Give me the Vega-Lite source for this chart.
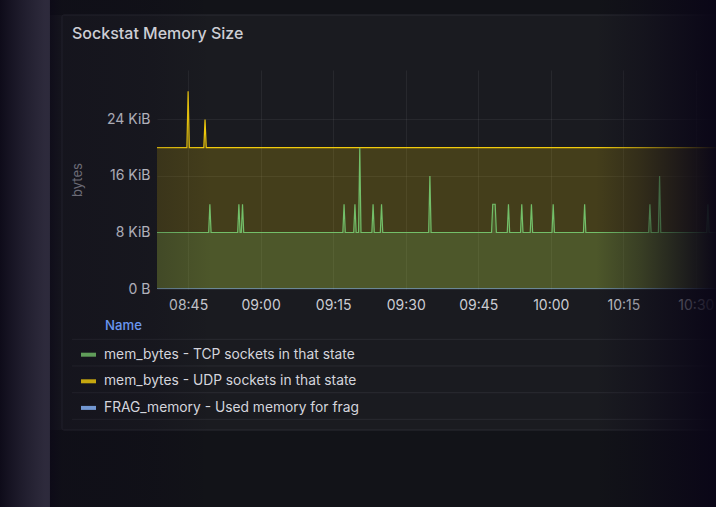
{
  "$schema": "https://vega.github.io/schema/vega-lite/v6.json",
  "width": 559,
  "height": 219,
  "autosize": {"type": "none"},
  "padding": {"left": 157, "top": 70, "right": 0, "bottom": 218},
  "background": "#1a1b20",
  "title": {"text": "Sockstat Memory Size", "anchor": "start", "frame": "group", "dx": -85, "offset": -42, "color": "#cdced5", "font": "Inter", "fontSize": 16, "fontWeight": 500},
  "data": {"values": [
    {"time": "2024-05-20T08:38:30Z", "series": "mem_bytes - UDP sockets in that state", "value": 20480},
    {"time": "2024-05-20T08:44:45Z", "series": "mem_bytes - UDP sockets in that state", "value": 20480},
    {"time": "2024-05-20T08:45:00Z", "series": "mem_bytes - UDP sockets in that state", "value": 28672},
    {"time": "2024-05-20T08:45:15Z", "series": "mem_bytes - UDP sockets in that state", "value": 20480},
    {"time": "2024-05-20T08:48:15Z", "series": "mem_bytes - UDP sockets in that state", "value": 20480},
    {"time": "2024-05-20T08:48:30Z", "series": "mem_bytes - UDP sockets in that state", "value": 24576},
    {"time": "2024-05-20T08:48:45Z", "series": "mem_bytes - UDP sockets in that state", "value": 20480},
    {"time": "2024-05-20T10:34:30Z", "series": "mem_bytes - UDP sockets in that state", "value": 20480},
    {"time": "2024-05-20T08:38:30Z", "series": "mem_bytes - TCP sockets in that state", "value": 8192},
    {"time": "2024-05-20T08:49:15Z", "series": "mem_bytes - TCP sockets in that state", "value": 8192},
    {"time": "2024-05-20T08:49:30Z", "series": "mem_bytes - TCP sockets in that state", "value": 12288},
    {"time": "2024-05-20T08:49:45Z", "series": "mem_bytes - TCP sockets in that state", "value": 8192},
    {"time": "2024-05-20T08:55:15Z", "series": "mem_bytes - TCP sockets in that state", "value": 8192},
    {"time": "2024-05-20T08:55:30Z", "series": "mem_bytes - TCP sockets in that state", "value": 12288},
    {"time": "2024-05-20T08:55:45Z", "series": "mem_bytes - TCP sockets in that state", "value": 8192},
    {"time": "2024-05-20T08:56:00Z", "series": "mem_bytes - TCP sockets in that state", "value": 8192},
    {"time": "2024-05-20T08:56:15Z", "series": "mem_bytes - TCP sockets in that state", "value": 12288},
    {"time": "2024-05-20T08:56:30Z", "series": "mem_bytes - TCP sockets in that state", "value": 8192},
    {"time": "2024-05-20T09:17:00Z", "series": "mem_bytes - TCP sockets in that state", "value": 8192},
    {"time": "2024-05-20T09:17:15Z", "series": "mem_bytes - TCP sockets in that state", "value": 12288},
    {"time": "2024-05-20T09:17:30Z", "series": "mem_bytes - TCP sockets in that state", "value": 8192},
    {"time": "2024-05-20T09:19:15Z", "series": "mem_bytes - TCP sockets in that state", "value": 8192},
    {"time": "2024-05-20T09:19:30Z", "series": "mem_bytes - TCP sockets in that state", "value": 12288},
    {"time": "2024-05-20T09:19:45Z", "series": "mem_bytes - TCP sockets in that state", "value": 8192},
    {"time": "2024-05-20T09:20:15Z", "series": "mem_bytes - TCP sockets in that state", "value": 8192},
    {"time": "2024-05-20T09:20:30Z", "series": "mem_bytes - TCP sockets in that state", "value": 20480},
    {"time": "2024-05-20T09:20:45Z", "series": "mem_bytes - TCP sockets in that state", "value": 8192},
    {"time": "2024-05-20T09:23:00Z", "series": "mem_bytes - TCP sockets in that state", "value": 8192},
    {"time": "2024-05-20T09:23:15Z", "series": "mem_bytes - TCP sockets in that state", "value": 12288},
    {"time": "2024-05-20T09:23:30Z", "series": "mem_bytes - TCP sockets in that state", "value": 8192},
    {"time": "2024-05-20T09:24:45Z", "series": "mem_bytes - TCP sockets in that state", "value": 8192},
    {"time": "2024-05-20T09:25:00Z", "series": "mem_bytes - TCP sockets in that state", "value": 12288},
    {"time": "2024-05-20T09:25:15Z", "series": "mem_bytes - TCP sockets in that state", "value": 8192},
    {"time": "2024-05-20T09:34:45Z", "series": "mem_bytes - TCP sockets in that state", "value": 8192},
    {"time": "2024-05-20T09:35:00Z", "series": "mem_bytes - TCP sockets in that state", "value": 16384},
    {"time": "2024-05-20T09:35:15Z", "series": "mem_bytes - TCP sockets in that state", "value": 8192},
    {"time": "2024-05-20T09:47:45Z", "series": "mem_bytes - TCP sockets in that state", "value": 8192},
    {"time": "2024-05-20T09:48:00Z", "series": "mem_bytes - TCP sockets in that state", "value": 12288},
    {"time": "2024-05-20T09:48:15Z", "series": "mem_bytes - TCP sockets in that state", "value": 12288},
    {"time": "2024-05-20T09:48:30Z", "series": "mem_bytes - TCP sockets in that state", "value": 12288},
    {"time": "2024-05-20T09:48:45Z", "series": "mem_bytes - TCP sockets in that state", "value": 8192},
    {"time": "2024-05-20T09:51:00Z", "series": "mem_bytes - TCP sockets in that state", "value": 8192},
    {"time": "2024-05-20T09:51:15Z", "series": "mem_bytes - TCP sockets in that state", "value": 12288},
    {"time": "2024-05-20T09:51:30Z", "series": "mem_bytes - TCP sockets in that state", "value": 8192},
    {"time": "2024-05-20T09:53:45Z", "series": "mem_bytes - TCP sockets in that state", "value": 8192},
    {"time": "2024-05-20T09:54:00Z", "series": "mem_bytes - TCP sockets in that state", "value": 12288},
    {"time": "2024-05-20T09:54:15Z", "series": "mem_bytes - TCP sockets in that state", "value": 8192},
    {"time": "2024-05-20T09:55:45Z", "series": "mem_bytes - TCP sockets in that state", "value": 8192},
    {"time": "2024-05-20T09:56:00Z", "series": "mem_bytes - TCP sockets in that state", "value": 12288},
    {"time": "2024-05-20T09:56:15Z", "series": "mem_bytes - TCP sockets in that state", "value": 8192},
    {"time": "2024-05-20T10:00:15Z", "series": "mem_bytes - TCP sockets in that state", "value": 8192},
    {"time": "2024-05-20T10:00:30Z", "series": "mem_bytes - TCP sockets in that state", "value": 12288},
    {"time": "2024-05-20T10:00:45Z", "series": "mem_bytes - TCP sockets in that state", "value": 8192},
    {"time": "2024-05-20T10:06:45Z", "series": "mem_bytes - TCP sockets in that state", "value": 8192},
    {"time": "2024-05-20T10:07:00Z", "series": "mem_bytes - TCP sockets in that state", "value": 12288},
    {"time": "2024-05-20T10:07:15Z", "series": "mem_bytes - TCP sockets in that state", "value": 8192},
    {"time": "2024-05-20T10:20:15Z", "series": "mem_bytes - TCP sockets in that state", "value": 8192},
    {"time": "2024-05-20T10:20:30Z", "series": "mem_bytes - TCP sockets in that state", "value": 12288},
    {"time": "2024-05-20T10:20:45Z", "series": "mem_bytes - TCP sockets in that state", "value": 8192},
    {"time": "2024-05-20T10:22:15Z", "series": "mem_bytes - TCP sockets in that state", "value": 8192},
    {"time": "2024-05-20T10:22:30Z", "series": "mem_bytes - TCP sockets in that state", "value": 16384},
    {"time": "2024-05-20T10:22:45Z", "series": "mem_bytes - TCP sockets in that state", "value": 8192},
    {"time": "2024-05-20T10:32:15Z", "series": "mem_bytes - TCP sockets in that state", "value": 8192},
    {"time": "2024-05-20T10:32:30Z", "series": "mem_bytes - TCP sockets in that state", "value": 12288},
    {"time": "2024-05-20T10:32:45Z", "series": "mem_bytes - TCP sockets in that state", "value": 8192},
    {"time": "2024-05-20T10:34:30Z", "series": "mem_bytes - TCP sockets in that state", "value": 8192},
    {"time": "2024-05-20T08:38:30Z", "series": "FRAG_memory - Used memory for frag", "value": 0},
    {"time": "2024-05-20T10:34:30Z", "series": "FRAG_memory - Used memory for frag", "value": 0}
  ]},
  "layer": [
    {
      "mark": {"type": "area", "clip": true, "fillOpacity": 0.2, "strokeWidth": 0},
      "encoding": {
        "x": {"field": "time", "type": "temporal", "title": null,
          "scale": {"type": "utc", "domain": [1716194314000, 1716201250000]},
          "axis": {"format": "%H:%M", "values": [1716194700000, 1716195600000, 1716196500000, 1716197400000, 1716198300000, 1716199200000, 1716200100000, 1716201000000], "labelFlush": false, "labelOverlap": false, "labelPadding": 9.5, "labelFontSize": 14, "labelColor": "#cbccd3"}},
        "y": {"field": "value", "type": "quantitative", "stack": null,
          "scale": {"domain": [0, 31744], "nice": false},
          "axis": {"values": [0, 8192, 16384, 24576], "labelExpr": "datum.value == 0 ? '0 B' : (datum.value / 1024) + ' KiB'", "title": "bytes", "titleColor": "#92939c", "titleFontWeight": "normal", "titleFontSize": 13, "titlePadding": 22, "labelPadding": 7, "labelFontSize": 14, "labelColor": "#dcdde3"}},
        "color": {"field": "series", "type": "nominal",
          "scale": {"domain": ["mem_bytes - TCP sockets in that state", "mem_bytes - UDP sockets in that state", "FRAG_memory - Used memory for frag"], "range": ["#73BF69", "#F2CC0C", "#8AB8FF"]},
          "legend": {"title": "Name", "orient": "none", "legendX": -52, "legendY": 250, "padding": 0,
            "titleColor": "#6a96f0", "titleFont": "Inter", "titleFontSize": 13.2, "titleFontWeight": 500, "titlePadding": 12,
            "labelColor": "#d4d5dc", "labelFont": "Inter", "labelFontSize": 13.8, "labelLimit": 500, "labelOffset": 6,
            "symbolType": "stroke", "symbolStrokeWidth": 4, "symbolSize": 225, "symbolOffset": -26, "symbolOpacity": 0.8, "rowPadding": 8.6}}
      }
    },
    {
      "mark": {"type": "line", "clip": true, "strokeWidth": 1.2},
      "encoding": {
        "x": {"field": "time", "type": "temporal", "title": null},
        "y": {"field": "value", "type": "quantitative", "stack": null},
        "color": {"field": "series", "type": "nominal"}
      }
    },
    {
      "data": {"values": [{}]},
      "mark": {"type": "rect", "clip": false, "fill": "#121318"},
      "encoding": {
        "x": {"datum": 1716192986000, "type": "temporal"},
        "x2": {"datum": 1716201300000},
        "y": {"datum": -20438, "type": "quantitative"},
        "y2": {"datum": -31600}
      }
    },
    {
      "data": {"values": [{}]},
      "mark": {"type": "rect", "clip": false, "fill": "#121318"},
      "encoding": {
        "x": {"datum": 1716192986000, "type": "temporal"},
        "x2": {"datum": 1716201300000},
        "y": {"datum": 39716, "type": "quantitative"},
        "y2": {"datum": 41891}
      }
    },
    {
      "data": {"values": [{}]},
      "mark": {"type": "rect", "clip": false, "fill": null, "stroke": "#2b2c33", "strokeWidth": 1, "cornerRadius": 2},
      "encoding": {
        "x": {"datum": 1716193135000, "type": "temporal"},
        "x2": {"datum": 1716201300000},
        "y": {"datum": 39716, "type": "quantitative"},
        "y2": {"datum": -20438}
      }
    },
    {
      "data": {"values": [{}]},
      "mark": {"type": "rule", "clip": false, "stroke": "#2a2b31", "strokeWidth": 1},
      "encoding": {
        "x": {"datum": 1716193259000, "type": "temporal"},
        "x2": {"datum": 1716201300000},
        "y": {"datum": -7291, "type": "quantitative"}
      }
    },
    {
      "data": {"values": [{}]},
      "mark": {"type": "rule", "clip": false, "stroke": "#2a2b31", "strokeWidth": 1},
      "encoding": {
        "x": {"datum": 1716193259000, "type": "temporal"},
        "x2": {"datum": 1716201300000},
        "y": {"datum": -11161, "type": "quantitative"}
      }
    },
    {
      "data": {"values": [{}]},
      "mark": {"type": "rule", "clip": false, "stroke": "#2a2b31", "strokeWidth": 1},
      "encoding": {
        "x": {"datum": 1716193259000, "type": "temporal"},
        "x2": {"datum": 1716201300000},
        "y": {"datum": -15031, "type": "quantitative"}
      }
    },
    {
      "data": {"values": [{}]},
      "mark": {"type": "rule", "clip": false, "stroke": "#2a2b31", "strokeWidth": 1},
      "encoding": {
        "x": {"datum": 1716193259000, "type": "temporal"},
        "x2": {"datum": 1716201300000},
        "y": {"datum": -18887, "type": "quantitative"}
      }
    },
    {
      "data": {"values": [{}]},
      "mark": {"type": "rect", "clip": false, "fill": {"gradient": "linear", "x1": 0, "y1": 0, "x2": 1, "y2": 0, "stops": [
        {"offset": 0, "color": "rgba(10,6,23,0.75)"},
        {"offset": 0.9, "color": "rgba(58,52,78,0.6)"},
        {"offset": 1, "color": "rgba(58,52,78,0.6)"}]}},
      "encoding": {
        "x": {"datum": 1716192366000, "type": "temporal"},
        "x2": {"datum": 1716192986000},
        "y": {"datum": -31600, "type": "quantitative"},
        "y2": {"datum": 41891}
      }
    },
    {
      "data": {"values": [{}]},
      "mark": {"type": "rect", "clip": false, "fill": {"gradient": "linear", "x1": 0, "y1": 0, "x2": 1, "y2": 0, "stops": [
        {"offset": 0, "color": "rgba(10,6,23,0.65)"},
        {"offset": 0.074, "color": "rgba(10,6,23,0.3)"},
        {"offset": 0.6, "color": "rgba(10,6,23,0.2)"},
        {"offset": 1, "color": "rgba(10,6,23,0)"}]}},
      "encoding": {
        "x": {"datum": 1716192986000, "type": "temporal"},
        "x2": {"datum": 1716194996000},
        "y": {"datum": -31600, "type": "quantitative"},
        "y2": {"datum": 41891}
      }
    },
    {
      "data": {"values": [{}]},
      "mark": {"type": "rect", "clip": false, "fill": {"gradient": "linear", "x1": 0, "y1": 0, "x2": 1, "y2": 0, "stops": [
        {"offset": 0, "color": "rgba(10,6,23,0)"},
        {"offset": 0.37, "color": "rgba(10,6,23,0.3)"},
        {"offset": 0.7, "color": "rgba(10,6,23,0.65)"},
        {"offset": 0.84, "color": "rgba(10,6,23,0.8)"},
        {"offset": 1, "color": "rgba(10,6,23,0.97)"}]}},
      "encoding": {
        "x": {"datum": 1716199761000, "type": "temporal"},
        "x2": {"datum": 1716201250000},
        "y": {"datum": -31600, "type": "quantitative"},
        "y2": {"datum": 41891}
      }
    }
  ],
  "config": {
    "font": "Inter",
    "view": {"stroke": null},
    "axis": {"labelFont": "Inter", "titleFont": "Inter", "domain": false, "ticks": false, "gridColor": "#ffffff", "gridOpacity": 0.06}
  }
}
